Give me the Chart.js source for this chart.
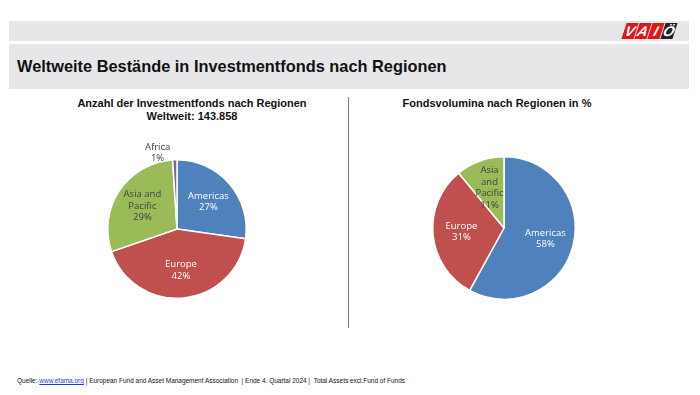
<!DOCTYPE html>
<html><head><meta charset="utf-8">
<script src="https://cdn.jsdelivr.net/npm/chart.js@4"></script>
<style>
html,body{margin:0;padding:0;background:#fff;width:700px;height:395px;overflow:hidden;font-family:"Liberation Sans",Arial,sans-serif;}
.band1{position:absolute;left:9px;top:21px;width:680px;height:20px;background:#e7e7e9;}
.band2{position:absolute;left:9px;top:44px;width:680px;height:45px;background:#e7e7e9;}
.title{position:absolute;left:17px;top:57px;font-size:17px;font-weight:bold;color:#111;white-space:nowrap;transform-origin:0 0;transform:scaleX(0.962);}
.sub{position:absolute;font-size:11px;font-weight:bold;color:#111;text-align:center;white-space:nowrap;line-height:13px;}
.div{position:absolute;left:348px;top:97px;width:1px;height:231px;background:#7f7f7f;}
.foot{position:absolute;left:17px;top:377px;font-size:7px;color:#111;white-space:nowrap;transform-origin:0 0;transform:scaleX(0.924);}
.foot a{color:#1a3ee6;text-decoration:underline;}
canvas{position:absolute;}
.logo{position:absolute;top:23px;left:624px;height:16px;}
.lb{position:absolute;top:0;width:12px;height:16px;background:#e3141b;transform:skewX(-18deg);color:#fff;font-weight:bold;font-style:italic;font-size:14px;line-height:16px;text-align:center;}
</style></head><body>
<div class="band1"></div>
<div class="band2"></div>
<div class="logo">
<div class="lb" style="left:0px">V</div>
<div class="lb" style="left:13px">A</div>
<div class="lb" style="left:26px">I</div>
<div class="lb" style="left:39px;background:#222">Ö</div>
</div>
<div class="title" id="title">Weltweite Bestände in Investmentfonds nach Regionen</div>
<div class="sub" style="left:62px;top:97px;width:260px;">Anzahl der Investmentfonds nach Regionen<br>Weltweit: 143.858</div>
<div class="sub" style="left:367px;top:97px;width:260px;">Fondsvolumina nach Regionen in %</div>
<div class="div"></div>
<canvas id="c1" width="200" height="200" style="left:77px;top:129px"></canvas>
<canvas id="c2" width="200" height="200" style="left:404px;top:128px"></canvas>
<div class="foot">Quelle: <a>www.efama.org</a> | European Fund and Asset Management Association &nbsp;| Ende 4. Quartal 2024 | &nbsp;Total Assets excl.Fund of Funds</div>
<script>
const leftLabels = ["Americas", "Europe", "Asia and Pacific", "Africa"];
const leftValues = [27, 42, 29, 1];
const rightLabels = ["Americas", "Europe", "Asia and Pacific"];
const rightValues = [58, 31, 11];
const regionColors = {"Americas":"#4f81bd","Europe":"#c0504d","Asia and Pacific":"#9bbb59","Africa":"#8064a2"};

const labelPlugin = {
  id:'sliceLabels',
  afterDatasetsDraw(chart, args, opts){
    const ctx = chart.ctx;
    const meta = chart.getDatasetMeta(0);
    const ds = chart.data.datasets[0];
    meta.data.forEach((arc, i) => {
      const p = arc.getProps(['x','y','startAngle','endAngle','outerRadius'], true);
      const mid = (p.startAngle + p.endAngle)/2;
      const name = chart.data.labels[i];
      const lines = (opts.lines && opts.lines[name]) || [name];
      const val = ds.data[i] + '%';
      const outside = ds.data[i] < 5;
      const r = outside ? p.outerRadius + 7 : p.outerRadius * 0.6;
      let x = p.x + Math.cos(mid) * r;
      let y = p.y + Math.sin(mid) * r;
      if (outside) { x -= 17; }
      const all = lines.concat([val]);
      ctx.save();
      ctx.font = '9.5px "Open Sans", sans-serif';
      ctx.textAlign = 'center';
      ctx.textBaseline = 'middle';
      ctx.fillStyle = (name === 'Americas' || name === 'Europe') ? '#ffffff' : '#404040';
      const lh = 11.5;
      const y0 = y - (all.length-1)*lh/2;
      all.forEach((t, k) => ctx.fillText(t, x, y0 + k*lh));
      ctx.restore();
    });
  }
};

function makePie(id, labels, values, padding, lines){
  return new Chart(document.getElementById(id), {
    type:'pie',
    data:{labels:labels, datasets:[{data:values, backgroundColor:labels.map(l=>regionColors[l]), borderColor:'#ffffff', borderWidth:1.5}]},
    options:{responsive:false, animation:false, layout:{padding:padding},
      plugins:{legend:{display:false}, tooltip:{enabled:false}, sliceLabels:{lines:lines}}},
    plugins:[labelPlugin]
  });
}
makePie('c1', leftLabels, leftValues, 30, {"Asia and Pacific":["Asia and","Pacific"]});
makePie('c2', rightLabels, rightValues, 28, {"Asia and Pacific":["Asia","and","Pacific"]});
</script>
</body></html>
